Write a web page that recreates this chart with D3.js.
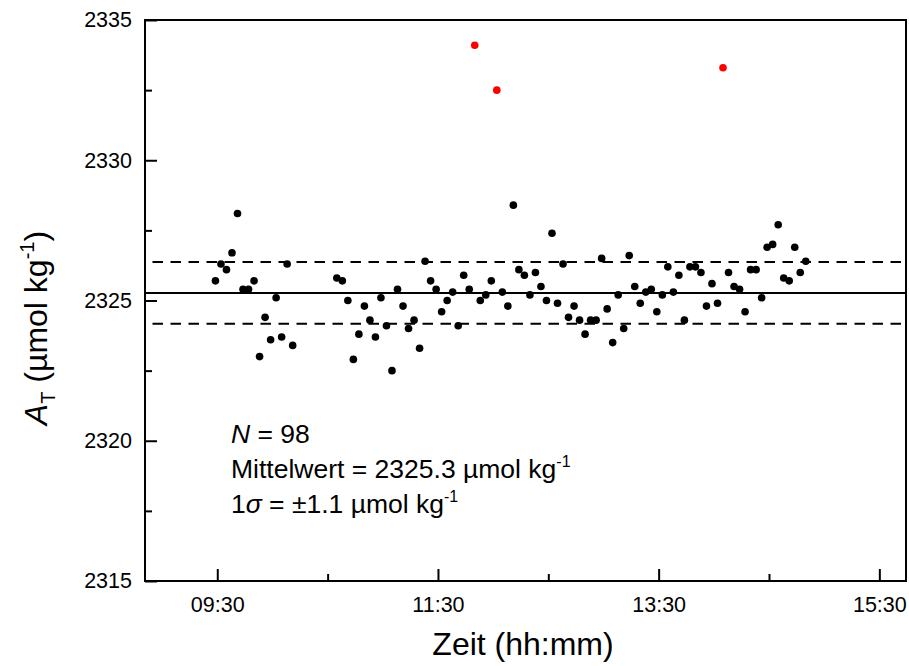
<!DOCTYPE html>
<html><head><meta charset="utf-8">
<script src="https://cdn.jsdelivr.net/npm/d3@7"></script>
<style>
body{margin:0;background:#fff}
text{font-family:"Liberation Sans",Arial,Helvetica,sans-serif;fill:#000}
</style>
</head><body>
<svg id="chart" width="909" height="666"></svg>
<script>
// ---- data ----
const times = [
"09:29","09:32","09:35","09:38","09:41","09:44","09:47","09:50","09:53","09:56",
"09:59","10:02","10:05","10:08","10:11",
"10:35","10:38","10:41","10:44","10:47","10:50","10:53","10:56","10:59","11:02",
"11:05","11:08","11:11","11:14","11:17","11:20","11:23","11:26","11:29","11:32",
"11:35","11:38","11:41","11:44","11:47","11:53","11:56","11:59","12:05","12:08",
"12:11","12:14","12:17","12:20","12:23","12:26","12:29","12:32","12:35","12:38",
"12:41","12:44","12:47","12:50","12:53","12:56","12:59","13:02","13:05","13:08",
"13:11","13:14","13:17","13:20","13:23","13:26","13:29","13:32","13:35","13:38",
"13:41","13:44","13:47","13:50","13:53","13:56","13:59","14:02","14:08","14:11",
"14:14","14:17","14:20","14:23","14:26","14:29","14:32","14:35","14:38","14:41",
"14:44","14:47","14:50"];
const values = [
2325.7,2326.3,2326.1,2326.7,2328.1,2325.4,2325.4,2325.7,2323.0,2324.4,
2323.6,2325.1,2323.7,2326.3,2323.4,
2325.8,2325.7,2325.0,2322.9,2323.8,2324.8,2324.3,2323.7,2325.1,2324.1,
2322.5,2325.4,2324.8,2324.0,2324.3,2323.3,2326.4,2325.7,2325.4,2324.6,
2325.0,2325.3,2324.1,2325.9,2325.4,2325.0,2325.2,2325.7,2325.3,2324.8,
2328.4,2326.1,2325.9,2325.2,2326.0,2325.5,2325.0,2327.4,2324.9,2326.3,
2324.4,2324.8,2324.3,2323.8,2324.3,2324.3,2326.5,2324.7,2323.5,2325.2,
2324.0,2326.6,2325.5,2324.9,2325.3,2325.4,2324.6,2325.2,2326.2,2325.3,
2325.9,2324.3,2326.2,2326.2,2326.0,2324.8,2325.6,2324.9,2326.0,2325.5,
2325.4,2324.6,2326.1,2326.1,2325.1,2326.9,2327.0,2327.7,2325.8,2325.7,
2326.9,2326.0,2326.4];
const outlierTimes = ["11:50","12:02","14:05"];
const outlierValues = [2334.1, 2332.5, 2333.3];
const meanValue = 2325.27;
const sigmaValue = 1.1;
const yTicks = [2315, 2320, 2325, 2330, 2335];
const yMinorTicks = [2317.5, 2322.5, 2327.5, 2332.5];
const xTickLabels = ["09:30", "11:30", "13:30", "15:30"];
const xMinorTickLabels = ["10:30", "12:30", "14:30"];
const xDomainLabels = ["08:50:42", "15:44:30"];
const yDomain = [2315, 2335];

// ---- layout ----
const pL = 145, pR = 906, pT = 20, pB = 581;
const parseHM = d3.timeParse("%H:%M");
const parseHMS = d3.timeParse("%H:%M:%S");
const fmt = d3.timeFormat("%H:%M");

const svg = d3.select("#chart");
const x = d3.scaleTime().domain(xDomainLabels.map(parseHMS)).range([pL, pR]);
const y = d3.scaleLinear().domain(yDomain).range([pB, pT]);

// axes (ticks inward)
const gx = svg.append("g").attr("transform", `translate(0,${pB})`)
  .call(d3.axisBottom(x).tickValues(xTickLabels.map(parseHM)).tickFormat(fmt)
    .tickSize(-12).tickPadding(16));
const gxm = svg.append("g").attr("transform", `translate(0,${pB})`)
  .call(d3.axisBottom(x).tickValues(xMinorTickLabels.map(parseHM)).tickFormat("")
    .tickSize(-7));
const gy = svg.append("g").attr("transform", `translate(${pL},0)`)
  .call(d3.axisLeft(y).tickValues(yTicks).tickFormat(d3.format("d"))
    .tickSize(-12).tickPadding(13));
const gym = svg.append("g").attr("transform", `translate(${pL},0)`)
  .call(d3.axisLeft(y).tickValues(yMinorTicks).tickFormat("")
    .tickSize(-7));
[gx, gxm, gy, gym].forEach(g => {
  g.select(".domain").remove();
  g.selectAll(".tick line").attr("stroke", "#000").attr("stroke-width", 2);
  g.selectAll(".tick text").attr("font-size", 21.5).attr("font-family", '"Liberation Sans",Arial,sans-serif');
});

// mean and +-sigma lines
svg.append("line").attr("x1", pL).attr("x2", pR)
  .attr("y1", y(meanValue)).attr("y2", y(meanValue))
  .attr("stroke", "#000").attr("stroke-width", 2);
[meanValue + sigmaValue, meanValue - sigmaValue].forEach(v => {
  svg.append("line").attr("x1", pL).attr("x2", pR)
    .attr("y1", y(v)).attr("y2", y(v))
    .attr("stroke", "#000").attr("stroke-width", 2)
    .attr("stroke-dasharray", "10.5,7.5").attr("stroke-dashoffset", 10.5);
});

// frame
svg.append("rect").attr("x", pL).attr("y", pT)
  .attr("width", pR - pL).attr("height", pB - pT)
  .attr("fill", "none").attr("stroke", "#000").attr("stroke-width", 2);

// points
svg.append("g").selectAll("circle").data(times.map((t, i) => ({t: parseHM(t), v: values[i]})))
  .join("circle").attr("cx", d => x(d.t)).attr("cy", d => y(d.v)).attr("r", 3.8).attr("fill", "#000");
svg.append("g").selectAll("circle").data(outlierTimes.map((t, i) => ({t: parseHM(t), v: outlierValues[i]})))
  .join("circle").attr("cx", d => x(d.t)).attr("cy", d => y(d.v)).attr("r", 3.8).attr("fill", "#ff0000");

// axis titles
svg.append("text").attr("x", 523).attr("y", 655).attr("text-anchor", "middle")
  .attr("font-size", 32).text("Zeit (hh:mm)");

const yt = svg.append("text").attr("transform", "translate(47,328) rotate(-90)")
  .attr("text-anchor", "middle").attr("font-size", 32);
yt.append("tspan").attr("font-style", "italic").text("A");
yt.append("tspan").attr("font-size", 20).attr("dy", 8).text("T");
yt.append("tspan").attr("dy", -8).text(" (µmol kg");
yt.append("tspan").attr("font-size", 20).attr("dy", -13).text("-1");
yt.append("tspan").attr("dy", 13).text(")");

// annotation
const ann = svg.append("g");
const t1 = ann.append("text").attr("x", 231).attr("y", 443).attr("font-size", 26.5);
t1.append("tspan").attr("font-style", "italic").text("N");
t1.append("tspan").text(" = 98");
const t2 = ann.append("text").attr("x", 231).attr("y", 478).attr("font-size", 26.5);
t2.append("tspan").text("Mittelwert = 2325.3 µmol kg");
t2.append("tspan").attr("font-size", 16).attr("dy", -11).text("-1");
const t3 = ann.append("text").attr("x", 231).attr("y", 513).attr("font-size", 26.5);
t3.append("tspan").text("1");
t3.append("tspan").attr("font-style", "italic").text("σ");
t3.append("tspan").text(" = ±1.1 µmol kg");
t3.append("tspan").attr("font-size", 16).attr("dy", -11).text("-1");
</script>
</body></html>
